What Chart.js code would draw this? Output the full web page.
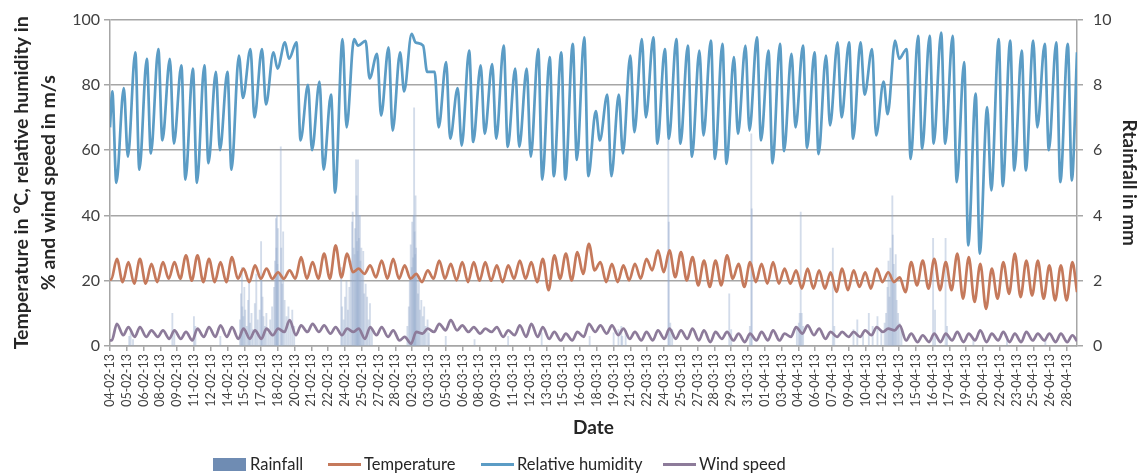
<!DOCTYPE html>
<html>
<head>
<meta charset="utf-8">
<script src="https://cdn.jsdelivr.net/npm/chart.js@4.4.1/dist/chart.umd.min.js"></script>
<style>
  html, body { margin: 0; padding: 0; background: #fff; }
  #wrap { position: relative; width: 1145px; height: 476px; }
  #legend { position: absolute; left: 0; top: 452px; width: 1145px; height: 24px; font: 16.5px Lato, sans-serif; color: #262626; }
  .item { position: absolute; top: 0; height: 24px; display: flex; align-items: center; white-space: nowrap; }
  .box { width: 33px; height: 13px; margin-right: 4px; }
  .line { width: 33px; height: 3px; margin-right: 3px; }
</style>
</head>
<body>
<div id="wrap">
  <canvas id="chart" width="1145" height="476"></canvas>
  <div id="legend"></div>
</div>
<script>
// Hourly station record 04-02-13 .. 28-04-13
const DAYS = 84;
const TICK_DAYS = 35 / 24;   // Excel put a category label every 35 hourly rows

const dateLabels = [
  '04-02-13','05-02-13','06-02-13','08-02-13','09-02-13','11-02-13','12-02-13','14-02-13','15-02-13','17-02-13',
  '18-02-13','20-02-13','21-02-13','22-02-13','24-02-13','25-02-13','27-02-13','28-02-13','02-03-13','03-03-13',
  '05-03-13','06-03-13','08-03-13','09-03-13','11-03-13','12-03-13','13-03-13','15-03-13','16-03-13','18-03-13',
  '19-03-13','21-03-13','22-03-13','24-03-13','25-03-13','27-03-13','28-03-13','29-03-13','31-03-13','01-04-13',
  '03-04-13','04-04-13','06-04-13','07-04-13','09-04-13','10-04-13','12-04-13','13-04-13','15-04-13','16-04-13',
  '17-04-13','19-04-13','20-04-13','22-04-13','23-04-13','25-04-13','26-04-13','28-04-13'
];

// relative humidity, % (daily max / min)
const humMax = [
  78,79,90,88,91,88,86,85,86,84,84,89,91,91,90,93,93,
  80,81,77,94,94,93.5,89.5,91.5,90,95.6,92,84,87,79,90.5,86,86.4,
  92,85,85,91,88.5,90,92.6,94.6,72,77,77,89,94,94.6,91,94,92,
  90.5,93.6,92.6,88.5,92,94.6,90.5,92.6,89.5,92,90,89,93,93,93,91,81,
  93.6,91,95,95,96,95,87,77.3,73.2,94,93.6,90.5,93.6,92.6,93,92.6
];
const humMin = [
  50,58,54,59,63,62,51,50,56,60,54,76,70,74,85,88,63,
  60,54,47,67,92,82,70.6,66,78,93,84,67,63.5,61.4,62.5,65,63.5,
  61,61,58,51,52,51,57,52,63,52,59,65.5,70,62,63.5,62,58,
  64.5,57.3,55.8,65,66,63,56,59.7,67,60.7,58.8,67.6,70,63.5,77,64.5,71,
  88,57.3,60.4,62,62,50.2,30.8,28.3,47.7,49,53.8,53.8,67,60,50.2,50.7
];

// temperature, °C (daily max / min)
const tempMax = [
  26.7,25.7,26.7,25.2,25.7,25.7,27.8,27.8,26.7,25.7,27.2,23.7,24.7,23.7,22.6,23.2,27.2,
  25.7,28.3,30.8,28.3,23.7,24.7,26.2,26.7,24.7,22.1,23.2,26.2,25.2,25.7,25.7,25.7,24.7,
  24.7,26.2,25.7,26.7,27.8,28.3,28.8,31.3,25.7,25.2,24.7,25.2,26.7,29.3,29.3,28.8,27.2,
  26.2,26.2,27.8,25.2,25.7,25.2,25.7,23.7,23.2,23.7,23.2,22.6,23.7,23.2,22.6,23.7,22.6,
  21,25.7,26.2,26.7,25.7,28.3,27.2,25.2,23.7,25.7,28.3,26.2,26.2,24.7,24.7,25.7
];
const tempMin = [
  20.3,19.6,19.1,19.1,19.6,20.6,20.6,20,19.6,19.6,19.6,20.6,19.6,20.6,20.6,20.6,20.6,
  20.6,20.6,20.6,21,22.6,22.1,21,20.6,20.6,20.6,19.6,20.6,20.6,20.1,19.6,20,20,
  19.6,20.6,20.6,19.6,17.1,20.6,20.1,22.1,23.2,19.6,19.6,20.1,20.6,23.2,22.6,21.1,20.1,
  18.6,18.1,18.6,20.6,18.1,19.6,19.1,19.1,19.1,17.6,17.6,17.6,16.6,17.1,18.1,17.6,19.6,
  19.6,16.5,18.6,17.6,17.1,17.1,14.5,13.5,11.4,14.5,16,15,15.5,14.5,14,14
];

// wind speed, m/s (daily max / min)
const windMax = [
  6.8,5.8,5.8,4.8,4.8,4.8,4.3,5.3,5.8,6.3,5.8,5.3,4.8,5.3,5.3,7.9,6.3,
  6.8,6.3,5.8,5.3,5.3,5.8,5.8,4.8,2.8,4.3,5.3,6.8,7.9,6.3,5.8,5.3,5.8,
  4.8,6.3,6.8,5.8,4.3,3.8,4.3,6.8,6.3,6.3,5.3,4.3,4.3,4.8,5.3,4.8,5.3,
  4.8,4.3,4.3,3.8,3.8,4.3,4.8,3.8,5.8,6.3,5.3,4.3,4.3,4.3,4.8,5.8,5.3,
  6.3,3.8,3.3,3.8,3.8,4.3,3.8,4.8,3.8,4.3,3.8,4.3,3.8,3.8,3.8,3.3
];
const windMin = [
  1.7,3.3,2.8,2.8,2.8,2.2,2.2,1.7,2.8,2.8,2.8,2.2,2.2,2.2,3.3,4.3,3.3,
  4.3,4.3,3.8,3.3,4.3,2.2,3.3,2.8,1.7,0.7,3.8,4.3,4.8,4.8,4.3,3.8,4.3,
  2.8,3.3,2.8,2.8,2.2,1.7,1.7,2.8,4.3,3.8,3.3,2.2,1.7,1.7,2.2,2.2,2.2,
  1.7,1.2,2.2,1.7,1.2,1.7,1.7,1.7,2.8,3.8,3.3,2.2,2.8,2.8,2.8,3.3,4.3,
  4.8,1.7,1.2,1.2,1.2,1.7,1.2,1.7,1.2,1.7,1.2,1.2,1.7,1.7,1.2,1.2
];

// time of day (fraction) of the daily [max, min], and values at the record's first / last hour
const humAt  = [0.2, 0.55];
const tempAt = [0.6, 0.1];
const windAt = [0.6, 0.15];
const humEdge  = [67, 90];
const tempEdge = [20.6, 16.5];
const windEdge = [1.7, 1.5];

// rainfall, mm per hour (hour counted from 04-02-13 00:00)
const rainHour = [
  40,43,48,130,134,175,178,230,
  271,273,275,276,278,280,282,285,288,290,292,295,298,302,305,308,312,315,316,318,320,323,
  326,330,334,338,342,344,346,347,348,349,350,352,356,357,359,361,364,368,372,376,380,384,
  482,484,487,490,493,496,499,502,505,506,508,510,511,513,514,515,516,517,518,519,521,522,
  524,526,528,530,533,536,539,542,546,
  620,623,625,627,629,630,632,633,634,635,636,637,638,640,642,644,646,649,652,655,658,662,665,
  700,760,830,900,1000,1050,1060,1066,1068,1075,
  1164,1165,1168,1172,1291,1295,1334,1337,1338,1432,1436,1438,1440,1442,1445,1507,1510,
  1550,1558,1570,1582,1590,1600,1608,1615,
  1618,1621,1623,1625,1627,1629,1631,1632,1634,1636,1638,1640,1643,1646,1650,
  1716,1720,1742,1745,1800,1870,1950
];
const rainMm = [
  0.3,0.4,0.2,1.0,0.5,0.9,0.6,0.3,
  0.8,1.6,2.4,1.2,0.9,1.8,1.1,0.6,1.4,2.0,0.7,1.0,0.5,1.3,2.2,0.8,1.1,3.2,2.0,1.5,0.9,0.6,
  1.0,0.4,0.8,1.2,1.8,2.6,3.9,3.0,4.0,2.5,3.6,2.2,6.1,3.0,1.9,3.5,1.4,0.9,1.2,0.7,1.1,0.6,
  2.4,1.2,0.8,1.5,2.0,1.1,1.8,2.6,3.8,4.1,3.0,2.8,3.6,5.7,4.6,3.2,2.9,5.7,4.0,3.3,4.0,2.6,
  3.0,2.2,2.9,1.6,1.9,1.5,0.8,1.3,0.5,
  0.6,1.2,2.0,3.1,2.4,3.8,2.7,4.0,7.3,3.5,2.8,4.6,3.0,2.2,1.6,2.0,1.1,1.4,0.9,1.2,0.6,0.8,0.4,
  0.3,0.2,0.3,0.4,0.3,0.4,0.5,0.6,0.3,0.4,
  6.4,3.8,0.7,0.5,1.6,0.5,0.6,6.5,4.2,0.5,0.7,1.0,4.1,1.0,0.6,3.0,0.6,
  0.5,0.8,0.4,1.0,0.6,0.9,0.5,0.7,
  1.0,1.8,2.6,1.5,3.0,2.2,4.6,3.4,2.5,1.9,2.8,1.4,1.0,0.7,0.5,
  3.3,1.1,3.3,0.6,0.2,0.3,0.2
];

const C_RAIN = 'rgba(150,172,205,0.42)', C_RAIN_KEY = '#6f8cb3';
const C_TEMP = '#c5795b', C_HUM = '#5b9cc5', C_WIND = '#8d7b9a';
const AXIS = '#a6a6a6', TXT = '#404040', TITLE = '#262626';

function daily(maxArr, minArr, at, edge) {
  const pts = [{ x: 0, y: edge[0] }];
  maxArr.forEach((mx, d) => {
    const hi = { x: d + at[0], y: mx }, lo = { x: d + at[1], y: minArr[d] };
    if (at[0] < at[1]) pts.push(hi, lo); else pts.push(lo, hi);
  });
  pts.push({ x: DAYS, y: edge[1] });
  return pts;
}

const rainPts = rainHour.map((h, i) => ({ x: h / 24, y: rainMm[i] }));

Chart.defaults.font.family = 'Lato';
Chart.defaults.color = TXT;

const lineDs = (label, data, color, order) => ({
  type: 'line', label, data, borderColor: color, backgroundColor: color,
  borderWidth: 2.7, pointRadius: 0, cubicInterpolationMode: 'monotone', yAxisID: 'y', order
});

new Chart(document.getElementById('chart'), {
  type: 'line',
  data: {
    datasets: [
      lineDs('Relative humidity', daily(humMax, humMin, humAt, humEdge), C_HUM, 1),
      lineDs('Temperature', daily(tempMax, tempMin, tempAt, tempEdge), C_TEMP, 2),
      lineDs('Wind speed', daily(windMax, windMin, windAt, windEdge), C_WIND, 3),
      { type: 'bar', label: 'Rainfall', data: rainPts, backgroundColor: C_RAIN, barThickness: 1.2,
        yAxisID: 'yRain', order: 4 }
    ]
  },
  options: {
    responsive: false,
    animation: false,
    events: [],
    layout: { padding: { top: 19, bottom: 34, left: 0, right: 0 } },
    plugins: { legend: { display: false }, tooltip: { enabled: false } },
    scales: {
      x: {
        type: 'linear', min: 0, max: DAYS, offset: false,
        afterBuildTicks: s => { s.ticks = dateLabels.map((_, i) => ({ value: i * TICK_DAYS })); },
        afterFit: s => { s.height = 96; },
        ticks: { autoSkip: false, minRotation: 90, maxRotation: 90, padding: 3,
                 font: { size: 12.5 }, color: TXT, callback: (v, i) => dateLabels[i] },
        grid: { drawOnChartArea: false, offset: false, tickLength: 5, color: AXIS, lineWidth: 1.5 },
        border: { color: AXIS, width: 1.5 },
        title: { display: true, text: 'Date', color: TITLE, font: { size: 19, weight: 'bold' },
                 padding: { top: 0, bottom: 3 } }
      },
      y: {
        position: 'left', min: 0, max: 100,
        afterFit: s => { s.width = 110; },
        ticks: { stepSize: 20, padding: 4, font: { size: 16 }, color: TXT },
        grid: { color: AXIS, lineWidth: 1.5, tickLength: 6 },
        border: { color: AXIS, width: 1.5 },
        title: { display: true, color: TITLE, font: { size: 19.5, weight: 'bold', lineHeight: 1.35 },
                 text: ['Temperature in °C, relative humidity in', '% and wind speed in m/s'],
                 padding: { top: 9, bottom: 0 } }
      },
      yRain: {
        position: 'right', min: 0, max: 10,
        afterFit: s => { s.width = 68; },
        ticks: { stepSize: 2, padding: 10, font: { size: 16 }, color: TXT },
        grid: { drawOnChartArea: false, color: AXIS, lineWidth: 1.5, tickLength: 6 },
        border: { color: AXIS, width: 1.5 },
        title: { display: true, text: 'Rtainfall in mm', color: TITLE, font: { size: 19, weight: 'bold' },
                 padding: { top: 4, bottom: 0 } }
      }
    }
  }
});

// legend row, drawn under the plot as in the source figure
const legendItems = [
  { label: 'Rainfall', color: C_RAIN_KEY, kind: 'box', left: 213 },
  { label: 'Temperature', color: C_TEMP, kind: 'line', left: 328 },
  { label: 'Relative humidity', color: C_HUM, kind: 'line', left: 481 },
  { label: 'Wind speed', color: C_WIND, kind: 'line', left: 663 }
];
const legend = document.getElementById('legend');
legendItems.forEach(it => {
  const el = document.createElement('div');
  el.className = 'item';
  el.style.left = it.left + 'px';
  const sw = document.createElement('span');
  sw.className = it.kind;
  sw.style.background = it.color;
  const tx = document.createElement('span');
  tx.textContent = it.label;
  el.appendChild(sw);
  el.appendChild(tx);
  legend.appendChild(el);
});
</script>
</body>
</html>
